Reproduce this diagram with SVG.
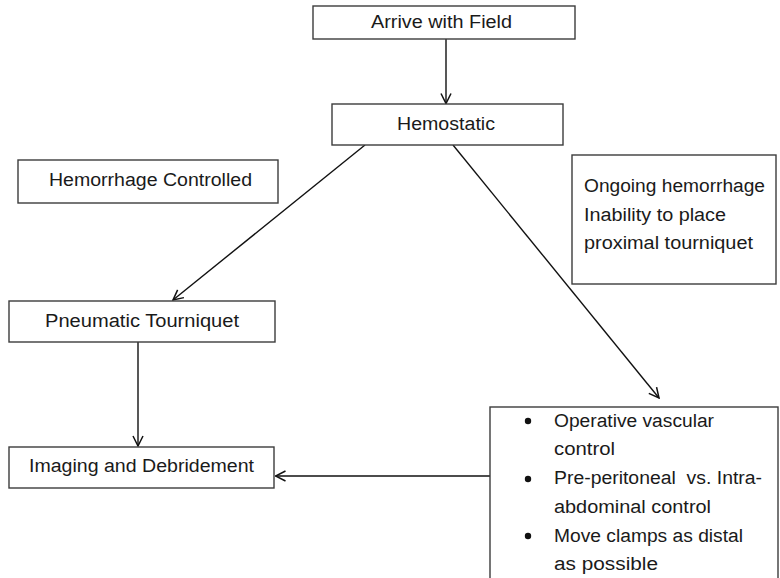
<svg xmlns="http://www.w3.org/2000/svg" width="780" height="578" viewBox="0 0 780 578">
  <style>
    .box { fill: #ffffff; stroke: #3c3c3c; stroke-width: 1.4; }
    .lbl { font-family: "Liberation Sans", Arial, sans-serif; font-size: 18px; fill: #1a1a1a; }
    .mid { text-anchor: middle; }
    .edge { fill: none; stroke: #111111; stroke-width: 1.4; marker-end: url(#vee); }
    .dot { fill: #111111; }
  </style>
  <defs>
    <marker id="vee" viewBox="0 0 12 12" refX="11" refY="6" markerWidth="12" markerHeight="12" markerUnits="userSpaceOnUse" orient="auto">
      <path d="M1,1 L11,6 L1,11" fill="none" stroke="#111111" stroke-width="1.5"/>
    </marker>
  </defs>
  <rect width="780" height="578" fill="#ffffff"/>

  <g id="connectors">
    <line class="edge" x1="446" y1="39" x2="446" y2="103.5"/>
    <line class="edge" x1="365" y1="145" x2="173" y2="300"/>
    <line class="edge" x1="453" y1="145" x2="659" y2="398"/>
    <line class="edge" x1="138" y1="342" x2="138" y2="446"/>
    <line class="edge" x1="490" y1="476" x2="275.5" y2="476"/>
  </g>

  <g id="arrive">
    <rect class="box" x="313" y="6" width="262" height="33"/>
    <text class="lbl mid" x="441.5" y="28" textLength="141" lengthAdjust="spacingAndGlyphs">Arrive with Field</text>
  </g>

  <g id="hemostatic">
    <rect class="box" x="332" y="104" width="231" height="41"/>
    <text class="lbl mid" x="446" y="130" textLength="98" lengthAdjust="spacingAndGlyphs">Hemostatic</text>
  </g>

  <g id="controlled">
    <rect class="box" x="18" y="160" width="260" height="43"/>
    <text class="lbl" x="49" y="186" textLength="203" lengthAdjust="spacingAndGlyphs">Hemorrhage Controlled</text>
  </g>

  <g id="ongoing">
    <rect class="box" x="572" y="155" width="204" height="129"/>
    <text class="lbl" x="584" y="192" textLength="181" lengthAdjust="spacingAndGlyphs">Ongoing hemorrhage</text>
    <text class="lbl" x="584" y="221" textLength="142" lengthAdjust="spacingAndGlyphs">Inability to place</text>
    <text class="lbl" x="584" y="249" textLength="169" lengthAdjust="spacingAndGlyphs">proximal tourniquet</text>
  </g>

  <g id="pneumatic">
    <rect class="box" x="9" y="301" width="266" height="41"/>
    <text class="lbl" x="45" y="327" textLength="194" lengthAdjust="spacingAndGlyphs">Pneumatic Tourniquet</text>
  </g>

  <g id="imaging">
    <rect class="box" x="9" y="447" width="265" height="41"/>
    <text class="lbl" x="29" y="472" textLength="225" lengthAdjust="spacingAndGlyphs">Imaging and Debridement</text>
  </g>

  <g id="operative">
    <rect class="box" x="490" y="407" width="288" height="190"/>
    <circle class="dot" cx="528" cy="421" r="3.2"/>
    <text class="lbl" x="554" y="427" textLength="160" lengthAdjust="spacingAndGlyphs">Operative vascular</text>
    <text class="lbl" x="554" y="455" textLength="61" lengthAdjust="spacingAndGlyphs">control</text>
    <circle class="dot" cx="528" cy="479" r="3.2"/>
    <text class="lbl" x="554" y="484" textLength="208" lengthAdjust="spacingAndGlyphs" xml:space="preserve">Pre-peritoneal  vs. Intra-</text>
    <text class="lbl" x="554" y="513" textLength="157" lengthAdjust="spacingAndGlyphs">abdominal control</text>
    <circle class="dot" cx="528" cy="536" r="3.2"/>
    <text class="lbl" x="554" y="542" textLength="189" lengthAdjust="spacingAndGlyphs">Move clamps as distal</text>
    <text class="lbl" x="554" y="570" textLength="104" lengthAdjust="spacingAndGlyphs">as possible</text>
  </g>
</svg>
